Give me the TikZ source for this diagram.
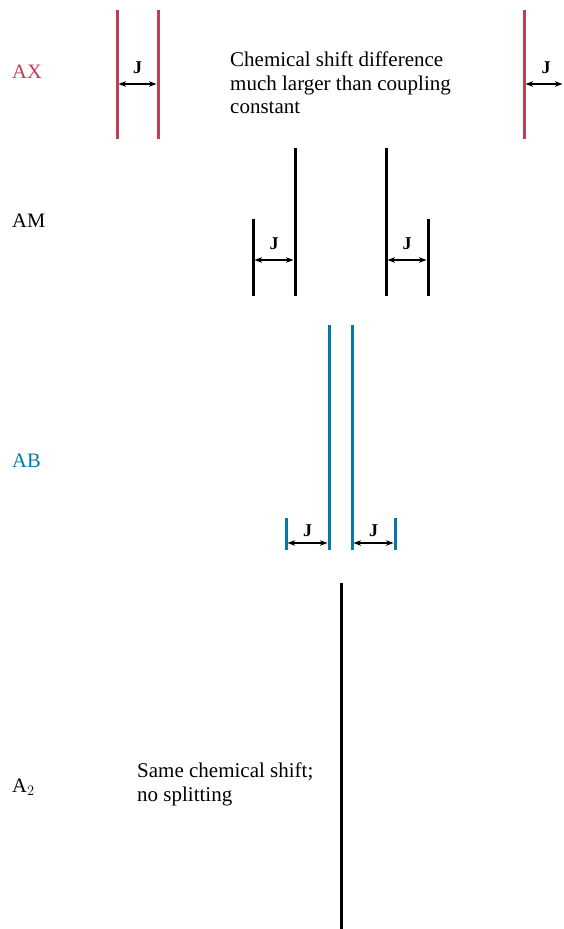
\documentclass[tikz,border=0pt]{standalone}
\usepackage{fontspec}
\setmainfont{Liberation Serif}
\usetikzlibrary{arrows.meta}
\definecolor{axred}{RGB}{192,62,82}
\definecolor{abblue}{RGB}{0,122,170}
\begin{document}
\begin{tikzpicture}[x=1pt,y=-1pt,
  peak/.style={line width=3pt},
  jarrow/.style={{Stealth[length=7.5pt,width=5.5pt,inset=2pt]}-{Stealth[length=7.5pt,width=5.5pt,inset=2pt]}, line width=1.1pt, black, shorten <=1.5pt, shorten >=1.5pt},
  jlab/.style={font=\fontsize{18}{18}\selectfont\bfseries, inner sep=0pt, anchor=center},
  rowlab/.style={font=\fontsize{20.5}{24}\selectfont, anchor=base west, inner sep=0pt},
  note/.style={font=\fontsize{21}{23.5}\selectfont, anchor=north west, align=left, inner sep=0pt}]
\useasboundingbox (0,0) rectangle (563,929);

% ---------- AX ----------
\node[rowlab, text=axred] (lAX) at (12,78) {AX};
\coordinate (ax1t) at (117,10);  \coordinate (ax1b) at (117,139);
\coordinate (ax2t) at (158,10);  \coordinate (ax2b) at (158,139);
\coordinate (ax3t) at (524,10);  \coordinate (ax3b) at (524,139);
\draw[peak, axred] (ax1t) -- (ax1b);
\draw[peak, axred] (ax2t) -- (ax2b);
\draw[peak, axred] (ax3t) -- (ax3b);
\coordinate (axa1) at (117,84); \coordinate (axa2) at (158,84);
\coordinate (axa3) at (524,84); \coordinate (axa4) at (563,84);
\draw[jarrow] (axa1) -- (axa2);
\draw[jarrow, shorten >=0.5pt] (axa3) -- (axa4);
\node[jlab] (jax1) at (137.5,67.5) {J};
\node[jlab] (jax2) at (546,67.5) {J};
\node[note] (nAX) at (230,51.7) {Chemical shift difference\\much larger than coupling\\constant};

% ---------- AM ----------
\node[rowlab] (lAM) at (12,227) {AM};
\coordinate (am1t) at (253,219); \coordinate (am1b) at (253,296);
\coordinate (am2t) at (295,148); \coordinate (am2b) at (295,296);
\coordinate (am3t) at (386,148); \coordinate (am3b) at (386,296);
\coordinate (am4t) at (428,219); \coordinate (am4b) at (428,296);
\foreach \p in {am1,am2,am3,am4} \draw[peak] (\p t) -- (\p b);
\coordinate (ama1) at (253,260); \coordinate (ama2) at (295,260);
\coordinate (ama3) at (386,260); \coordinate (ama4) at (428,260);
\draw[jarrow] (ama1) -- (ama2);
\draw[jarrow] (ama3) -- (ama4);
\node[jlab] (jam1) at (274,243.5) {J};
\node[jlab] (jam2) at (407,243.5) {J};

% ---------- AB ----------
\node[rowlab, text=abblue] (lAB) at (12,467) {AB};
\coordinate (ab1t) at (286,518); \coordinate (ab1b) at (286,550);
\coordinate (ab2t) at (329,325); \coordinate (ab2b) at (329,550);
\coordinate (ab3t) at (352,325); \coordinate (ab3b) at (352,550);
\coordinate (ab4t) at (395,518); \coordinate (ab4b) at (395,550);
\foreach \p in {ab1,ab2,ab3,ab4} \draw[peak, abblue] (\p t) -- (\p b);
\coordinate (aba1) at (286,543); \coordinate (aba2) at (329,543);
\coordinate (aba3) at (352,543); \coordinate (aba4) at (395,543);
\draw[jarrow] (aba1) -- (aba2);
\draw[jarrow] (aba3) -- (aba4);
\node[jlab] (jab1) at (307.5,530.5) {J};
\node[jlab] (jab2) at (373.5,530.5) {J};

% ---------- A2 ----------
\node[rowlab] (lA2) at (12,792) {A$_2$};
\coordinate (a2t) at (341,583); \coordinate (a2b) at (341,929);
\draw[peak] (a2t) -- (a2b);
\node[note] (nA2) at (137,762.7) {Same chemical shift;\\no splitting};
\end{tikzpicture}
\end{document}
